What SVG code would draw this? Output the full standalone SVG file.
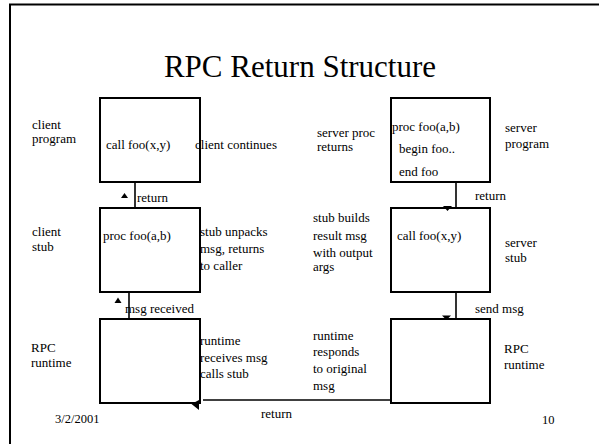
<svg xmlns="http://www.w3.org/2000/svg" width="599" height="444" viewBox="0 0 599 444">
<style>
text{font-family:"Liberation Serif","Times New Roman",serif;fill:#000}
.t{font-size:13px}
.s{font-size:13px}
.f{font-size:12.5px}
.title{font-size:31px}
.box{fill:#fff;stroke:#000;stroke-width:2}
.ln{stroke:#000;stroke-width:1.6;fill:none}
.ah{fill:#000}
</style>
<rect width="599" height="444" fill="#fff"/>
<path d="M10,450 V4.5 H605" fill="none" stroke="#000" stroke-width="2"/>
<text class="title" x="300" y="77" text-anchor="middle">RPC Return Structure</text>

<g id="client-program">
<rect class="box" x="100" y="98" width="100" height="84"/>
<text class="t" x="106" y="149">call foo(x,y)</text>
</g>
<g id="server-program">
<rect class="box" x="391" y="98" width="99" height="84"/>
<text class="t" x="392" y="131">proc foo(a,b)</text>
<text class="t" x="399" y="153">begin foo..</text>
<text class="t" x="399" y="176">end foo</text>
</g>
<g id="client-stub">
<rect class="box" x="100" y="208" width="100" height="84"/>
<text class="t" x="103" y="240">proc foo(a,b)</text>
</g>
<g id="server-stub">
<rect class="box" x="391" y="208" width="99" height="84"/>
<text class="t" x="397" y="240">call foo(x,y)</text>
</g>
<g id="client-runtime">
<rect class="box" x="100" y="319" width="100" height="84"/>
</g>
<g id="server-runtime">
<rect class="box" x="391" y="319" width="99" height="84"/>
</g>

<g id="connectors">
<line class="ln" x1="135" y1="182" x2="135" y2="208"/>
<polygon class="ah" points="124.5,193 121,198 128,198"/>
<line class="ln" x1="129" y1="292" x2="129" y2="319"/>
<polygon class="ah" points="118,297.5 114.5,303 121.5,303"/>
<line class="ln" x1="456" y1="182" x2="456" y2="207"/>
<polygon class="ah" points="443,206 452,206 447.5,211"/>
<line class="ln" x1="456" y1="292" x2="456" y2="318"/>
<polygon class="ah" points="442,315.5 451,315.5 446.5,320"/>
<line class="ln" x1="391" y1="400" x2="203" y2="400"/>
<polygon class="ah" points="191.5,404 199,400 199,410"/>
</g>

<g id="labels">
<text class="t" x="32" y="129">client</text>
<text class="t" x="32" y="143">program</text>
<text class="t" x="195" y="149">client continues</text>
<text class="t" x="317" y="137">server proc</text>
<text class="t" x="317" y="151">returns</text>
<text class="t" x="505" y="132">server</text>
<text class="t" x="505" y="148">program</text>
<text class="s" x="137" y="202">return</text>
<text class="s" x="475" y="200">return</text>
<text class="t" x="32" y="236">client</text>
<text class="t" x="32" y="251">stub</text>
<text class="t" x="200" y="236">stub unpacks</text>
<text class="t" x="200" y="253">msg, returns</text>
<text class="t" x="200" y="270">to caller</text>
<text class="t" x="313" y="222">stub builds</text>
<text class="t" x="313" y="240">result msg</text>
<text class="t" x="313" y="257">with output</text>
<text class="t" x="313" y="271">args</text>
<text class="t" x="505" y="247">server</text>
<text class="t" x="505" y="262">stub</text>
<text class="s" x="125" y="313">msg received</text>
<text class="s" x="475" y="313">send msg</text>
<text class="t" x="31" y="352">RPC</text>
<text class="t" x="31" y="367">runtime</text>
<text class="t" x="200" y="345">runtime</text>
<text class="t" x="200" y="362">receives msg</text>
<text class="t" x="200" y="378">calls stub</text>
<text class="t" x="313" y="340">runtime</text>
<text class="t" x="313" y="356">responds</text>
<text class="t" x="313" y="373">to original</text>
<text class="t" x="313" y="390">msg</text>
<text class="t" x="504" y="353">RPC</text>
<text class="t" x="504" y="369">runtime</text>
<text class="s" x="261" y="418">return</text>
<text class="f" x="55" y="423">3/2/2001</text>
<text class="f" x="542" y="424">10</text>
</g>
</svg>
